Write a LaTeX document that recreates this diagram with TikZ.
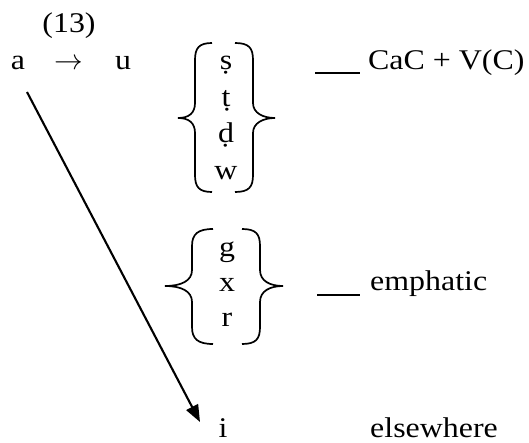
\documentclass[tikz,border=0pt]{standalone}
\usepackage{fontspec}
\usepackage{graphicx}
\setmainfont[FakeStretch=1.12]{Liberation Serif}
\usetikzlibrary{arrows.meta}
\begin{document}
\begin{tikzpicture}[x=1pt,y=-1pt,
  lbl/.style={inner sep=0pt,anchor=base,font=\fontsize{28.5}{34}\selectfont},
  lblw/.style={lbl,anchor=base west},
  brc/.style={line width=1.7pt},
  bar/.style={line width=1.4pt},
  arr/.style={line width=2.1pt,-{Triangle[length=17pt,width=13pt]}}]
\useasboundingbox (0,0) rectangle (529,443);
% first row
\node[lbl] (num) at (69,33) {(13)};
\node[lbl] (a) at (18,70) {a};
\node[lbl] (to) at (69,70) {\scalebox{1.15}{$\rightarrow$}};
\node[lbl] (u) at (123,70) {u};
% first group
\node[lbl] (s1) at (226,70) {ṣ};
\node[lbl] (t1) at (226,107) {ṭ};
\node[lbl] (d1) at (226,143) {ḍ};
\node[lbl] (w1) at (226,180) {w};
% braces group 1
\draw[brc] (212,43) .. controls (199,43) and (195,48) .. (195,60)
  -- (195,103) .. controls (195,113) and (189,118) .. (178,118)
  .. controls (189,118) and (195,123) .. (195,133)
  -- (195,175) .. controls (195,187) and (199,192) .. (212,192);
\draw[brc] (235,43) .. controls (249,43) and (253,48) .. (253,60)
  -- (253,103) .. controls (253,113) and (263,118) .. (275,118)
  .. controls (263,118) and (253,123) .. (253,133)
  -- (253,175) .. controls (253,187) and (249,192) .. (235,192);
\coordinate (b1s) at (315,73);
\coordinate (b1e) at (360,73);
\draw[bar] (b1s) -- (b1e);
\node[lblw] (env1) at (368,70) {CaC + V(C)};
% second group
\node[lbl] (g2) at (227,257) {g};
\node[lbl] (x2) at (227,291) {x};
\node[lbl] (r2) at (227,326) {r};
\draw[brc] (213,229) .. controls (198,229) and (192,234) .. (192,246)
  -- (192,270) .. controls (192,281) and (181,286) .. (165,286)
  .. controls (181,286) and (192,291) .. (192,302)
  -- (192,327) .. controls (192,339) and (198,344) .. (213,344);
\draw[brc] (242,229) .. controls (256,229) and (260,234) .. (260,246)
  -- (260,270) .. controls (260,281) and (270,286) .. (283,286)
  .. controls (270,286) and (260,291) .. (260,302)
  -- (260,327) .. controls (260,339) and (256,344) .. (242,344);
\coordinate (b2s) at (317,295);
\coordinate (b2e) at (360,295);
\draw[bar] (b2s) -- (b2e);
\node[lblw] (env2) at (370,290) {emphatic};
% elsewhere
\node[lbl] (i) at (223,437) {i};
\node[lblw] (env3) at (370,437) {elsewhere};
\coordinate (as) at (27,92);
\coordinate (at) at (200,422);
\draw[arr] (as) -- (at);
\end{tikzpicture}
\end{document}
